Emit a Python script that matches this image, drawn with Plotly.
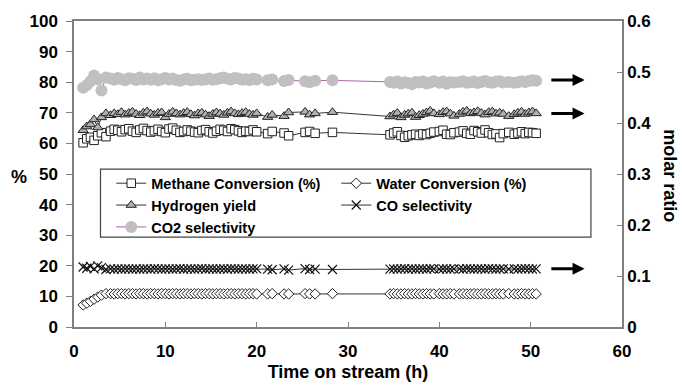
import plotly.graph_objects as go

# ---------------- data ----------------
time_h = [1.0, 1.4, 1.8, 2.2, 2.6, 3.0, 3.5,
          4.0, 4.4, 4.8, 5.2, 5.6, 6.0, 6.4, 6.8, 7.2, 7.6, 8.0, 8.4, 8.8, 9.2, 9.6, 10.0,
          10.4, 10.8, 11.2, 11.6, 12.0, 12.4, 12.8, 13.2, 13.6, 14.0, 14.4, 14.8, 15.2, 15.6,
          16.0, 16.4, 16.8, 17.2, 17.6, 18.0, 18.4, 18.8, 19.2, 19.6, 20.0,
          21.2, 21.7, 23.0, 23.5, 25.3, 25.8, 26.4, 28.3,
          34.6, 35.0, 35.4, 35.8, 36.2, 36.6, 37.0, 37.4, 37.8, 38.2, 38.6, 39.0, 39.4,
          40.0, 40.4, 40.8, 41.2, 41.6,
          42.2, 42.6, 43.0, 43.4, 43.8, 44.2, 44.6, 45.0, 45.4, 45.8, 46.2, 46.6, 47.0,
          47.6,
          48.2, 48.6, 49.0, 49.4, 49.8, 50.2, 50.6]

methane_conv = [60.2, 61.5, 62.0, 61.0, 62.5, 63.5, 62.2,
                64.0, 64.6, 64.3, 63.8, 64.5, 64.8, 64.0, 63.6, 64.4, 64.9,
                64.2, 63.7, 64.1, 64.6, 63.9, 63.5, 64.7, 65.0, 64.3, 63.6,
                63.9, 64.4, 64.0, 63.7, 63.5, 64.2, 64.5, 63.8, 63.4, 64.0,
                64.6, 64.3, 63.9, 64.8, 64.5, 64.1, 63.6, 64.0, 63.9, 64.4, 63.8,
                63.2, 63.9, 63.4, 62.5, 63.6, 63.9, 63.3, 63.6,
                62.8, 63.4, 63.8, 62.6, 62.0, 62.5, 62.8, 63.0, 62.6, 63.1, 62.9, 63.3, 63.7,
                63.9, 64.3, 63.0, 62.9, 63.5,
                63.7, 64.1, 63.3, 63.0, 64.2, 63.8, 63.4, 64.4, 63.5, 62.9, 63.1, 61.9, 63.2,
                63.6,
                63.0, 63.4, 63.8, 63.2, 63.6, 63.5, 63.3]

water_conv = [7.2, 7.8, 8.4, 9.1, 9.8, 10.4, 10.9,
              10.9, 10.8, 10.9, 10.9, 10.8, 10.9, 10.9, 10.8, 10.9, 10.9,
              10.8, 10.9, 10.9, 10.8, 10.9, 10.9, 10.8, 10.9, 10.9, 10.8,
              10.9, 10.9, 10.8, 10.9, 10.9, 10.8, 10.9, 10.9, 10.8, 10.9,
              10.9, 10.8, 10.9, 10.9, 10.8, 10.9, 10.9, 10.8, 10.9, 10.9, 10.8,
              10.8, 10.9, 10.8, 10.8, 10.9, 10.8, 10.8, 10.9,
              10.8, 10.9, 10.8, 10.8, 10.9, 10.8, 10.8, 10.9, 10.8, 10.8, 10.9, 10.8, 10.8,
              10.9, 10.8, 10.8, 10.9, 10.8,
              10.8, 10.9, 10.8, 10.8, 10.9, 10.8, 10.8, 10.9, 10.8, 10.8, 10.9, 10.8, 10.8,
              10.9,
              10.8, 10.8, 10.9, 10.8, 10.8, 10.9, 10.8]

hydrogen_yield = [64.3, 65.5, 66.2, 67.8, 65.2, 68.5, 69.8,
                  69.2, 69.8, 69.5, 70.2, 69.4, 69.9, 70.3, 69.6, 69.2, 70.0,
                  70.4, 69.7, 69.3, 69.9, 70.1, 68.5, 69.6, 70.3, 69.8, 69.4,
                  69.9, 70.2, 69.5, 69.1, 69.8, 70.0, 69.4, 68.9, 69.6, 70.1,
                  69.7, 69.3, 70.0, 70.4, 69.8, 69.5, 69.9, 70.2, 69.6, 69.3, 69.8,
                  68.6, 69.3, 68.9, 70.1, 70.3, 69.4, 69.8, 70.2,
                  68.8, 69.4, 69.9, 68.5, 69.3, 69.7, 70.0, 68.6, 69.2, 69.6, 70.1, 70.6, 69.8,
                  69.5, 70.2, 70.4, 69.7, 69.0,
                  69.6, 70.3, 70.6, 69.8, 70.1, 70.5, 69.9, 69.4, 70.2, 70.4, 69.7, 70.0, 69.6,
                  68.9,
                  69.5, 70.0, 70.3, 69.6, 70.1, 70.4, 69.8]

co_selectivity = [19.6, 19.2, 19.8, 19.0, 20.0, 19.4, 18.8,
                  19.0, 18.9, 19.0, 18.9, 19.0, 19.0, 18.9, 19.0, 18.9, 19.0,
                  19.0, 18.9, 19.1, 19.0, 18.9, 19.0, 19.0, 18.9, 19.0, 19.1,
                  18.9, 19.0, 19.0, 18.9, 19.0, 19.1, 18.9, 19.0, 19.0, 18.9,
                  19.0, 19.0, 18.9, 19.1, 19.0, 18.9, 19.0, 19.0, 18.9, 19.0, 19.0,
                  18.9, 18.7, 19.0, 18.6, 19.1, 18.8, 18.9, 18.8,
                  18.9, 19.0, 18.9, 19.0, 19.1, 18.9, 19.0, 18.9, 19.0, 19.0, 18.9, 19.1, 19.0,
                  18.9, 19.0, 19.0, 18.9, 19.0,
                  19.0, 18.9, 19.1, 19.0, 18.9, 19.0, 19.0, 18.9, 19.1, 19.0, 18.9, 19.0, 19.0,
                  18.9,
                  19.0, 18.9, 19.0, 19.1, 19.0, 18.9, 19.0]

co2_selectivity = [78.2, 79.0, 80.3, 82.2, 81.0, 77.3, 81.5,
                   81.2, 80.8, 81.4, 81.0, 80.6, 81.3, 81.1, 80.7, 81.5, 80.9,
                   81.2, 80.8, 81.3, 80.6, 81.0, 81.4, 80.9, 81.2, 80.7, 80.5,
                   80.9, 81.1, 80.6, 80.8, 81.0, 80.7, 80.9, 81.2, 80.8, 81.0,
                   81.3, 81.5, 81.1, 80.9, 81.4, 81.2, 80.8, 81.0, 80.7, 81.1, 80.9,
                   80.6, 80.9, 80.4, 80.7, 80.3, 80.0, 80.5, 80.6,
                   80.1, 79.8, 80.2, 79.6, 80.0, 79.7, 79.3, 80.1, 79.9, 80.2, 79.6, 79.9, 80.3,
                   79.8, 80.2, 79.5, 80.0, 79.9,
                   80.1, 80.3, 79.8, 80.0, 80.2, 79.7, 80.1, 80.4, 80.0, 79.8, 80.2, 80.3, 79.9,
                   80.1,
                   79.8, 80.0, 80.3, 80.1, 80.4, 80.6, 80.5]

arrow_levels = [80.7, 69.8, 19.0]   # % levels pointing to the molar-ratio axis

x_ticks = [0, 10, 20, 30, 40, 50, 60]
y_ticks = [0, 10, 20, 30, 40, 50, 60, 70, 80, 90, 100]
y2_ticks = [0, 0.1, 0.2, 0.3, 0.4, 0.5, 0.6]
y2_labels = ["0", "0.1", "0.2", "0.3", "0.4", "0.5", "0.6"]

# ---------------- figure ----------------
FONT = "Liberation Sans, Arial, sans-serif"
LINE = "#333333"
AXC = "#7f7f7f"


def bold(v):
    return "<b>%s</b>" % v


fig = go.Figure()

fig.add_trace(go.Scatter(
    x=time_h, y=methane_conv, name="Methane Conversion (%)", mode="lines+markers",
    line=dict(color=LINE, width=1),
    marker=dict(symbol="square", size=8.5, color="white", line=dict(color="#222", width=1))))

fig.add_trace(go.Scatter(
    x=time_h, y=water_conv, name="Water Conversion (%)", mode="lines+markers",
    line=dict(color=LINE, width=1),
    marker=dict(symbol="diamond", size=8, color="white", line=dict(color="#222", width=1))))

fig.add_trace(go.Scatter(
    x=time_h, y=hydrogen_yield, name="Hydrogen yield", mode="lines+markers",
    line=dict(color=LINE, width=1),
    marker=dict(symbol="triangle-up", size=9, color="#b0b0b0", line=dict(color="#222", width=1))))

fig.add_trace(go.Scatter(
    x=time_h, y=co_selectivity, name="CO selectivity", mode="lines+markers",
    line=dict(color=LINE, width=1),
    marker=dict(symbol="x-thin", size=9, color="#111", line=dict(color="#111", width=1.2))))

fig.add_trace(go.Scatter(
    x=time_h, y=co2_selectivity, name="CO2 selectivity", mode="lines+markers",
    line=dict(color="#b060b0", width=1),
    marker=dict(symbol="circle", size=12, color="#c0c0c0")))

# invisible trace to activate right axis
fig.add_trace(go.Scatter(x=[None], y=[None], yaxis="y2", showlegend=False, hoverinfo="skip"))

# legend box
fig.add_shape(type="rect", xref="x", yref="y", x0=2.9, x1=56.6, y0=29.4, y1=51.6,
              line=dict(color="#444", width=1.2), fillcolor="white", layer="below")

for lv in arrow_levels:
    fig.add_annotation(x=55.9, y=lv, ax=52.1, ay=lv, xref="x", yref="y", axref="x", ayref="y",
                       text="", showarrow=True, arrowhead=2, arrowsize=0.8, arrowwidth=3,
                       arrowcolor="black", standoff=0, startstandoff=0)

fig.add_annotation(text="<b>%</b>", xref="paper", yref="y", x=-0.1, y=49, showarrow=False,
                   xanchor="center", yanchor="middle",
                   font=dict(family=FONT, size=18, color="black"))
fig.add_annotation(text="<b>molar ratio</b>", xref="paper", yref="paper", x=1.088, y=0.495,
                   xanchor="center", yanchor="middle",
                   textangle=90, showarrow=False,
                   font=dict(family=FONT, size=18, color="black"))

tickfont = dict(family=FONT, size=17, color="black")

fig.update_layout(
    width=682, height=391,
    margin=dict(l=74, r=60, t=21, b=59),
    paper_bgcolor="white", plot_bgcolor="white",
    font=dict(family=FONT, color="black"),
    showlegend=True,
    legend=dict(orientation="h", x=0.068, y=0.522, xanchor="left", yanchor="top",
                entrywidth=180, bgcolor="rgba(0,0,0,0)", borderwidth=0,
                font=dict(family=FONT, size=14.5, color="black", weight="bold")),
    xaxis=dict(range=[0, 60], tickvals=x_ticks, ticktext=[bold(v) for v in x_ticks],
               showgrid=False, zeroline=False,
               showline=True, linecolor=AXC, linewidth=1.5, mirror=True,
               ticks="inside", ticklen=5, tickcolor=AXC, tickfont=tickfont,
               ticklabelstandoff=8,
               title=dict(text="<b>Time on stream (h)</b>", font=dict(family=FONT, size=18, color="black"),
                          standoff=5)),
    yaxis=dict(range=[0, 100], tickvals=y_ticks, ticktext=[bold(v) for v in y_ticks],
               showgrid=False, zeroline=False,
               showline=True, linecolor=AXC, linewidth=1.5,
               ticks="outside", ticklen=6, tickcolor=AXC, tickfont=tickfont,
               ticklabelstandoff=5),
    yaxis2=dict(range=[0, 0.6], tickvals=y2_ticks, ticktext=[bold(v) for v in y2_labels],
                overlaying="y", side="right",
                showgrid=False, zeroline=False, showline=True, linecolor=AXC, linewidth=1.5,
                ticks="inside", ticklen=5, tickcolor=AXC, tickfont=tickfont),
)

fig.write_html("out.html")
